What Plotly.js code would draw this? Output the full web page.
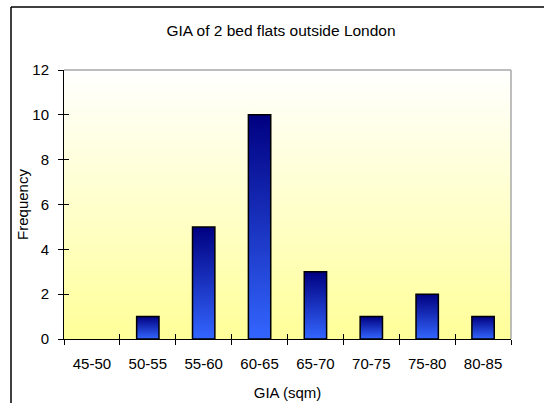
<!DOCTYPE html>
<html>
<head>
<meta charset="utf-8">
<script src="https://cdn.plot.ly/plotly-3.0.1.min.js"></script>
<style>
  html, body { margin: 0; padding: 0; background: #ffffff; }
  #chart { width: 544px; height: 403px; }
</style>
</head>
<body>
<div id="chart"></div>
<script>
// ---- data ----
const categories = ["45-50", "50-55", "55-60", "60-65", "65-70", "70-75", "75-80", "80-85"];
const frequency = [0, 1, 5, 10, 3, 1, 2, 1];
const chartTitle = "GIA of 2 bed flats outside London";
const xTitle = "GIA (sqm)";
const yTitle = "Frequency";
const yTickValues = [0, 2, 4, 6, 8, 10, 12];

const FONT = "Liberation Sans, Arial, sans-serif";
const FS = 15;

const mainBars = {
  type: "bar",
  x: categories,
  y: frequency,
  xaxis: "x",
  yaxis: "y",
  marker: { color: "#2446c8", line: { color: "#000000", width: 1.5 } },
  hoverinfo: "x+y",
  showlegend: false
};
// invisible copy that carries the inner tick marks
const tickCarrier = {
  type: "bar",
  x: categories,
  y: frequency,
  xaxis: "x2",
  yaxis: "y2",
  marker: { color: "rgba(0,0,0,0)", line: { width: 0 } },
  hoverinfo: "skip",
  showlegend: false
};

const catRange = [-0.5, categories.length - 0.5];
const yRange = [0, 12];

const layout = {
  width: 544,
  height: 403,
  margin: { l: 64, r: 33, t: 70, b: 64, pad: 0 },
  paper_bgcolor: "#ffffff",
  plot_bgcolor: "rgba(0,0,0,0)",
  bargap: 0.6,
  font: { family: FONT, size: FS, color: "#000000" },
  title: {
    text: chartTitle,
    font: { family: FONT, size: 15.5, color: "#000000" },
    x: 281 / 544,
    xref: "container",
    xanchor: "center",
    y: 1 - 31 / 403,
    yref: "container",
    yanchor: "middle"
  },
  xaxis: {
    type: "category",
    range: catRange,
    tickson: "boundaries",
    ticks: "outside",
    ticklen: 5,
    tickwidth: 1,
    tickcolor: "#000000",
    showline: true,
    linecolor: "#000000",
    linewidth: 1,
    showgrid: false,
    zeroline: false,
    tickfont: { family: FONT, size: FS, color: "#000000" },
    ticklabelstandoff: 11,
    title: { text: xTitle, font: { family: FONT, size: FS, color: "#000000" }, standoff: 16 },
    automargin: false,
    fixedrange: true
  },
  xaxis2: {
    type: "category",
    overlaying: "x",
    range: catRange,
    tickson: "boundaries",
    ticks: "inside",
    ticklen: 5,
    tickwidth: 1,
    tickcolor: "#000000",
    showticklabels: false,
    showline: false,
    showgrid: false,
    zeroline: false,
    fixedrange: true
  },
  yaxis: {
    range: yRange,
    tickvals: yTickValues,
    ticks: "outside",
    ticklen: 5,
    tickwidth: 1,
    tickcolor: "#000000",
    showline: true,
    linecolor: "#000000",
    linewidth: 1,
    showgrid: false,
    zeroline: false,
    tickfont: { family: FONT, size: FS, color: "#000000" },
    ticklabelstandoff: 6,
    title: { text: yTitle, font: { family: FONT, size: FS, color: "#000000" }, standoff: 0 },
    automargin: false,
    fixedrange: true
  },
  yaxis2: {
    overlaying: "y",
    range: yRange,
    tickvals: yTickValues,
    ticks: "inside",
    ticklen: 5,
    tickwidth: 1,
    tickcolor: "#000000",
    showticklabels: false,
    showline: false,
    showgrid: false,
    zeroline: false,
    fixedrange: true
  },
  shapes: [
    // light grey plot-area edges (top and right)
    { type: "line", xref: "paper", yref: "paper", x0: 0, x1: 1, y0: 1, y1: 1,
      line: { color: "#a8a8a8", width: 1.5 }, layer: "below" },
    { type: "line", xref: "paper", yref: "paper", x0: 1, x1: 1, y0: 0, y1: 1,
      line: { color: "#a8a8a8", width: 1.5 }, layer: "below" },
    // chart-area frame (top and left edges visible)
    { type: "line", xref: "paper", yref: "paper", x0: -53 / 447, x1: 1.2, y0: 332 / 269, y1: 332 / 269,
      line: { color: "#000000", width: 1.5 } },
    { type: "line", xref: "paper", yref: "paper", x0: -53 / 447, x1: -53 / 447, y0: 332 / 269, y1: -0.35,
      line: { color: "#000000", width: 1.5 } }
  ]
};

Plotly.newPlot("chart", [mainBars, tickCarrier], layout, { displayModeBar: false, staticPlot: true }).then(function (gd) {
  const NS = "http://www.w3.org/2000/svg";
  const svg = gd.querySelector("svg.main-svg");
  let defs = svg.querySelector("defs");
  if (!defs) { defs = document.createElementNS(NS, "defs"); svg.insertBefore(defs, svg.firstChild); }

  function addGrad(id, top, bottom) {
    const g = document.createElementNS(NS, "linearGradient");
    g.setAttribute("id", id);
    g.setAttribute("x1", "0"); g.setAttribute("y1", "0");
    g.setAttribute("x2", "0"); g.setAttribute("y2", "1");
    const s1 = document.createElementNS(NS, "stop");
    s1.setAttribute("offset", "0"); s1.setAttribute("stop-color", top);
    const s2 = document.createElementNS(NS, "stop");
    s2.setAttribute("offset", "1"); s2.setAttribute("stop-color", bottom);
    g.appendChild(s1); g.appendChild(s2);
    defs.appendChild(g);
  }
  addGrad("plotBgGrad", "#ffffff", "#ffff99");
  addGrad("barGrad", "#000080", "#3366ff");

  const bg = svg.querySelector(".bglayer rect.bg");
  if (bg) { bg.style.fill = "url(#plotBgGrad)"; bg.style.fillOpacity = 1; }

  const traces = svg.querySelectorAll(".barlayer .trace");
  if (traces.length) {
    traces[0].querySelectorAll(".point").forEach(function (pt) {
      const d = pt.__data__;
      const p = pt.querySelector("path");
      if (!p) return;
      if (d && d.s === 0) { p.style.strokeWidth = "0px"; return; }
      p.style.fill = "url(#barGrad)";
      p.style.fillOpacity = 1;
    });
  }
});
</script>
</body>
</html>
